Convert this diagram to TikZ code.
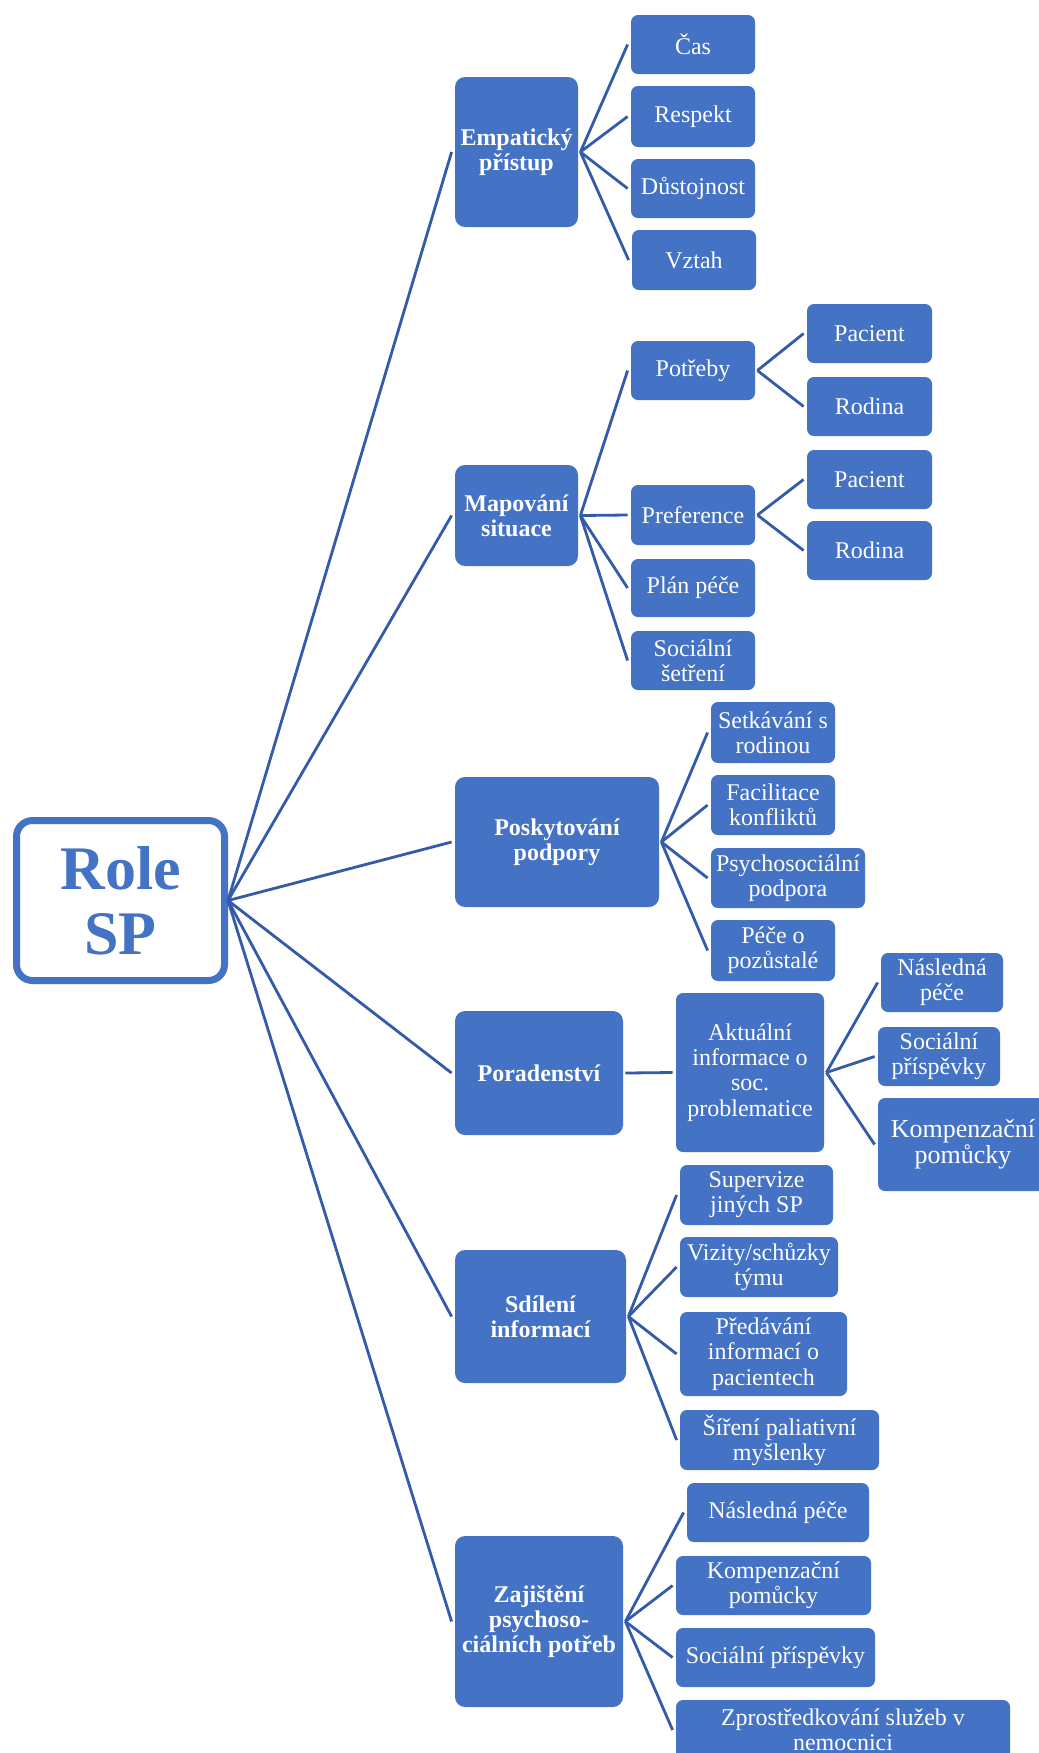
\documentclass[tikz,border=0pt]{standalone}
\usepackage{fontspec}
\setmainfont{Liberation Serif}
\definecolor{boxblue}{RGB}{68,114,196}
\definecolor{lineblue}{RGB}{52,90,170}
\tikzset{
  lvl/.style={fill=boxblue, rounded corners=5pt, inner sep=0pt, text=white, align=center,
    font=\fontsize{12}{12.6}\selectfont\bfseries},
  leaf/.style={fill=boxblue, rounded corners=3.5pt, inner sep=0pt, text=white, align=center,
    font=\fontsize{12}{12.6}\selectfont},
  bigleaf/.style={leaf, font=\fontsize{13}{13.2}\selectfont},
  rootbox/.style={draw=boxblue, line width=3.5pt, fill=white, rounded corners=8pt, inner sep=0pt,
    text=boxblue, align=center, font=\fontsize{31}{32.5}\selectfont\bfseries},
  conn/.style={draw=lineblue, line width=1.4pt}
}
\newcommand\bx[7]{%
  \pgfmathsetmacro\cx{(#2+#4)/2}\pgfmathsetmacro\cy{(#3+#5)/2}%
  \pgfmathsetmacro\ww{(#4-#2)*0.5}\pgfmathsetmacro\hh{(#5-#3)*0.5}%
  \node[#7, minimum width=\ww pt, minimum height=\hh pt] (#1) at (\cx,\cy) {#6};}
\begin{document}
\begin{tikzpicture}[x=0.5pt,y=-0.5pt]
\clip (0,0) rectangle (1039,1753);
\fill[white] (0,0) rectangle (1039,1753);
% root
\bx{root}{16.5}{820.5}{224.5}{980.5}{Role\\SP}{rootbox}
% level 1
\bx{e}{455}{77}{578}{227}{Empatický\\přístup}{lvl}
\bx{m}{455}{465}{578}{566}{Mapování\\situace}{lvl}
\bx{p}{455}{777}{659}{907}{Poskytování\\podpory}{lvl}
\bx{r}{455}{1011}{623}{1135}{Poradenství}{lvl}
\bx{s}{455}{1250}{626}{1383}{Sdílení\\informací}{lvl}
\bx{z}{455}{1536}{623}{1707}{Zajištění\\psychoso-\\ciálních potřeb}{lvl}
% Empaticky
\bx{e1}{631}{15}{755}{74}{Čas}{leaf}
\bx{e2}{631}{86}{755}{147}{Respekt}{leaf}
\bx{e3}{631}{159}{755}{218}{Důstojnost}{leaf}
\bx{e4}{632}{230}{756}{290}{Vztah}{leaf}
% Mapovani
\bx{m1}{631}{341}{755}{400}{Potřeby}{leaf}
\bx{m2}{631}{485}{755}{545}{Preference}{leaf}
\bx{m3}{631}{559}{755}{617}{Plán péče}{leaf}
\bx{m4}{631}{631}{755}{690}{Sociální\\šetření}{leaf}
\bx{m11}{807}{304}{932}{363}{Pacient}{leaf}
\bx{m12}{807}{377}{932}{436}{Rodina}{leaf}
\bx{m21}{807}{450}{932}{509}{Pacient}{leaf}
\bx{m22}{807}{521}{932}{580}{Rodina}{leaf}
% Poskytovani
\bx{p1}{711}{702}{835}{763}{Setkávání s\\rodinou}{leaf}
\bx{p2}{711}{775}{835}{835}{Facilitace\\konfliktů}{leaf}
\bx{p3}{711}{848}{865}{908}{Psychosociální\\podpora}{leaf}
\bx{p4}{711}{920}{835}{981}{Péče o\\pozůstalé}{leaf}
% Poradenstvi
\bx{ra}{676}{993}{824}{1152}{Aktuální\\informace o\\soc.\\problematice}{leaf}
\bx{ra1}{881}{953}{1003}{1012}{Následná\\péče}{leaf}
\bx{ra2}{878}{1027}{1000}{1086}{Sociální\\příspěvky}{leaf}
\bx{ra3}{878}{1098}{1048}{1191}{Kompenzační\\pomůcky}{bigleaf}
% Sdileni
\bx{s1}{680}{1165}{833}{1225}{Supervize\\jiných SP}{leaf}
\bx{s2}{680}{1237}{838}{1297}{Vizity/schůzky\\týmu}{leaf}
\bx{s3}{680}{1312}{847}{1396}{Předávání\\informací o\\pacientech}{leaf}
\bx{s4}{680}{1410}{879}{1470}{Šíření paliativní\\myšlenky}{leaf}
% Zajisteni
\bx{z1}{687}{1483}{869}{1542}{Následná péče}{leaf}
\bx{z2}{676}{1556}{871}{1615}{Kompenzační\\pomůcky}{leaf}
\bx{z3}{676}{1628}{875}{1687}{Sociální příspěvky}{leaf}
\bx{z4}{676}{1700}{1010}{1760}{Zprostředkování služeb v\\nemocnici}{leaf}
% connectors root
\foreach \c in {e,m,p,r,s,z}
  \draw[conn] (root.east) -- ([xshift=-1.5pt]\c.west);
% connectors level 1 -> 2
\foreach \c in {e1,e2,e3,e4}
  \draw[conn] ([xshift=1pt]e.east) -- ([xshift=-1.5pt]\c.west);
\foreach \c in {m1,m2,m3,m4}
  \draw[conn] ([xshift=1pt]m.east) -- ([xshift=-1.5pt]\c.west);
\foreach \c in {p1,p2,p3,p4}
  \draw[conn] ([xshift=1pt]p.east) -- ([xshift=-1.5pt]\c.west);
\draw[conn] ([xshift=1pt]r.east) -- ([xshift=-1.5pt]ra.west);
\foreach \c in {s1,s2,s3,s4}
  \draw[conn] ([xshift=1pt]s.east) -- ([xshift=-1.5pt]\c.west);
\foreach \c in {z1,z2,z3,z4}
  \draw[conn] ([xshift=1pt]z.east) -- ([xshift=-1.5pt]\c.west);
% level 2 -> 3
\foreach \c in {m11,m12}
  \draw[conn] ([xshift=1pt]m1.east) -- ([xshift=-1.5pt]\c.west);
\foreach \c in {m21,m22}
  \draw[conn] ([xshift=1pt]m2.east) -- ([xshift=-1.5pt]\c.west);
\foreach \c in {ra1,ra2,ra3}
  \draw[conn] ([xshift=1pt]ra.east) -- ([xshift=-1.5pt]\c.west);
\end{tikzpicture}
\end{document}
